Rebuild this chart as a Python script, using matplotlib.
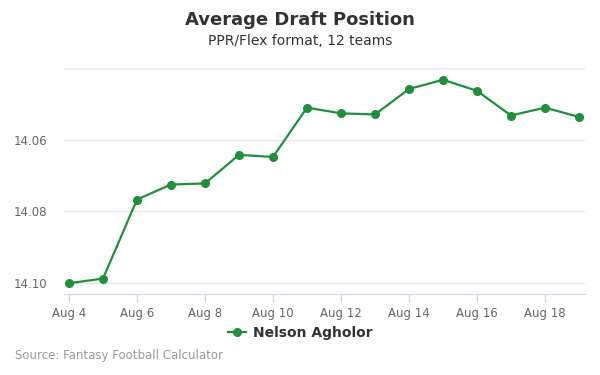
import matplotlib
matplotlib.use("Agg")
import matplotlib.pyplot as plt

# ADP readings, one per day from Aug 4 to Aug 19
days = list(range(4, 20))
adp = [14.1001, 14.0988, 14.0767, 14.0725, 14.0722, 14.0642, 14.0648, 14.0510,
       14.0526, 14.0529, 14.0458, 14.0432, 14.0463, 14.0532, 14.0510, 14.0536]
player = "Nelson Agholor"
x_ticks = [4, 6, 8, 10, 12, 14, 16, 18]
x_labels = ["Aug 4", "Aug 6", "Aug 8", "Aug 10", "Aug 12", "Aug 14", "Aug 16", "Aug 18"]
y_ticks = [14.04, 14.06, 14.08, 14.10]
y_labels = ["", "14.06", "14.08", "14.10"]

green = "#1f8f3a"

fig = plt.figure(figsize=(6, 3.75), dpi=100)
ax = fig.add_axes([64 / 600, 1 - 294.3 / 375, 521 / 600, 226 / 375])

ax.plot(days, adp, color=green, lw=1.6, marker="o", ms=5.5, label=player, zorder=3)

ax.set_xlim(4 - 5 / 34, 19 + 6 / 34)
ax.set_ylim(14.1032, 14.04)
ax.set_xticks(x_ticks)
ax.set_xticklabels(x_labels)
ax.set_yticks(y_ticks)
ax.set_yticklabels(y_labels)

ax.grid(axis="y", color="#e6e6e6", lw=1)
ax.set_axisbelow(True)
for side in ["top", "right", "left"]:
    ax.spines[side].set_visible(False)
ax.spines["bottom"].set_color("#ccd6eb")
ax.tick_params(axis="x", colors="#ccd6eb", length=6, labelcolor="#666666", labelsize=8.5, pad=3)
ax.tick_params(axis="y", length=0, labelcolor="#666666", labelsize=8.5, pad=12)

fig.text(0.5, 1 - 20 / 375, "Average Draft Position", ha="center", va="center",
         fontsize=13, fontweight="bold", color="#333333")
fig.text(0.5, 1 - 41 / 375, "PPR/Flex format, 12 teams", ha="center", va="center",
         fontsize=10, color="#333333")
fig.text(15 / 600, 1 - 356 / 375, "Source: Fantasy Football Calculator", ha="left", va="center",
         fontsize=8.5, color="#999999")

leg = fig.legend(loc="center", bbox_to_anchor=(0.5, 1 - 333 / 375), frameon=False,
                 handlelength=1.3, handletextpad=0.5,
                 prop={"weight": "bold", "size": 10})
for t in leg.get_texts():
    t.set_color("#333333")

fig.savefig("out.png", dpi=100)
